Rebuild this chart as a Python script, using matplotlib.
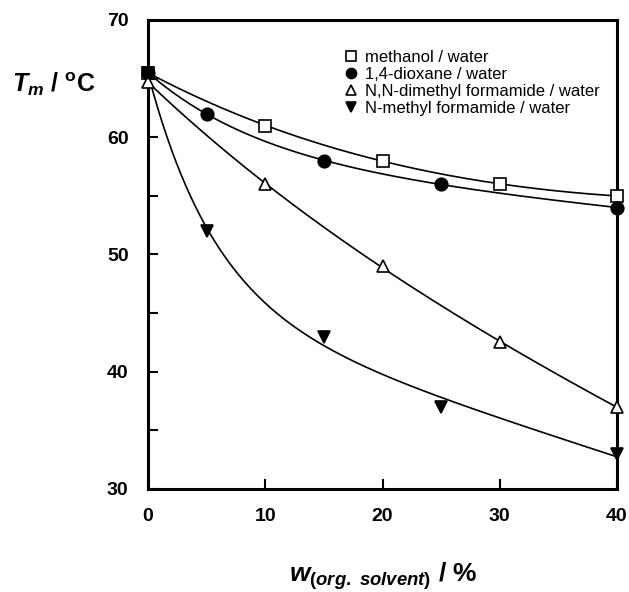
import numpy as np
import matplotlib
matplotlib.use("Agg")
import matplotlib.pyplot as plt

plt.rcParams['font.family'] = ['Liberation Sans', 'DejaVu Sans']
plt.rcParams['mathtext.fontset'] = 'custom'
plt.rcParams['mathtext.it'] = 'Liberation Sans:bold:italic'
plt.rcParams['mathtext.rm'] = 'Liberation Sans:bold'
plt.rcParams['mathtext.bf'] = 'Liberation Sans:bold'

# données
x_meoh = [0, 10, 20, 30, 40]
y_meoh = [65.5, 61.0, 58.0, 56.0, 55.0]

x_diox = [0, 5, 15, 25, 40]
y_diox = [65.5, 62.0, 58.0, 56.0, 54.0]

x_dmf = [0, 10, 20, 30, 40]
y_dmf = [64.7, 56.0, 49.0, 42.5, 37.0]

x_nmf = [0, 5, 15, 25, 40]
y_nmf = [65.5, 52.0, 43.0, 37.0, 33.0]

labels = ['methanol / water', '1,4-dioxane / water',
          'N,N-dimethyl formamide / water', 'N-methyl formamide / water']


def fit_curve(x, y):
    """Ajuste y = a + b*exp(-k*x) + c*x (recherche sur k, moindres carrés pour a, b, c)"""
    x = np.asarray(x, float)
    y = np.asarray(y, float)
    best = None
    for k in np.linspace(0.005, 0.5, 1000):
        A = np.column_stack([np.ones_like(x), np.exp(-k * x), x])
        coef, _, _, _ = np.linalg.lstsq(A, y, rcond=None)
        err = np.sum((A @ coef - y) ** 2)
        if best is None or err < best[0]:
            best = (err, k, coef)
    _, k, (a, b, c) = best
    xs = np.linspace(0, 40, 300)
    return xs, a + b * np.exp(-k * xs) + c * xs


fig = plt.figure(figsize=(6.29, 5.92), dpi=100)
ax = fig.add_axes([148 / 629, 1 - 489 / 592, 469 / 629, 469 / 592])

series = [
    (x_meoh, y_meoh, dict(marker='s', mfc='white', ms=9)),
    (x_diox, y_diox, dict(marker='o', mfc='black', ms=9)),
    (x_dmf, y_dmf, dict(marker='^', mfc='white', ms=9)),
    (x_nmf, y_nmf, dict(marker='v', mfc='black', ms=9)),
]

handles = []
for (x, y, st), lab in zip(series, labels):
    xs, ys = fit_curve(x, y)
    ax.plot(xs, ys, color='black', lw=1.2, zorder=2)
    h, = ax.plot(x, y, ls='none', mec='black', mew=1.2, zorder=3,
                 clip_on=False, label=lab, **st)
    handles.append(h)

ax.set_xlim(0, 40)
ax.set_ylim(30, 70)
ax.set_xticks([0, 10, 20, 30, 40])
ax.set_yticks([30, 40, 50, 60, 70])
ax.set_yticks(np.arange(35, 70, 10), minor=True)
ax.tick_params(which='both', direction='in', length=7, width=1.5)
ax.tick_params(axis='x', pad=14)
ax.tick_params(axis='y', pad=14)
for lab in ax.get_xticklabels() + ax.get_yticklabels():
    lab.set_fontsize(14)
    lab.set_fontweight('bold')
for sp in ax.spines.values():
    sp.set_linewidth(2.2)

leg = ax.legend(handles=handles, loc='upper left', bbox_to_anchor=(0.405, 0.95),
                frameon=False, fontsize=12, markerscale=0.8, handlelength=0.8,
                handletextpad=0.4, labelspacing=0.12, borderaxespad=0)

fig.text(12 / 629, 1 - 84 / 592, r'$T_m$ / $^{\mathrm{o}}$C', fontsize=18,
         fontweight='bold', ha='left', va='center')
fig.text(383 / 629, 1 - 576 / 592, r'$w_{(org.\ solvent)}$ / %', fontsize=19,
         fontweight='bold', ha='center', va='center')

fig.savefig('out.png', dpi=100)
